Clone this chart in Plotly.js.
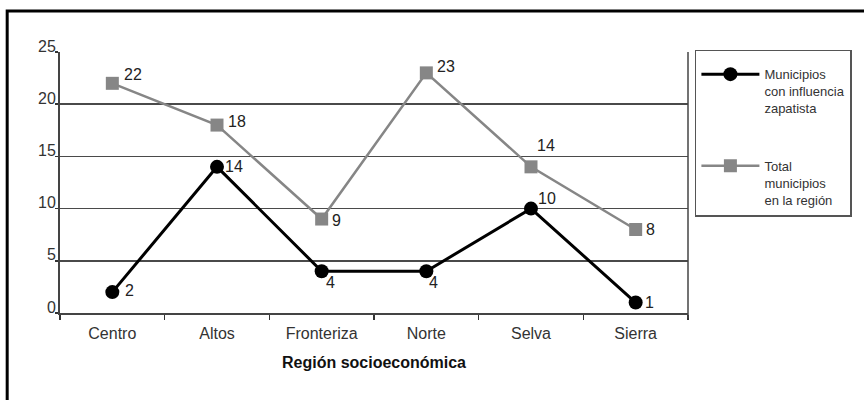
<!DOCTYPE html>
<html>
<head>
<meta charset="utf-8">
<script src="https://cdn.plot.ly/plotly-3.0.1.min.js"></script>
<style>
html,body{margin:0;padding:0;background:#fff;}
#chart{width:864px;height:400px;}
</style>
</head>
<body>
<div id="chart"></div>
<script>
const regions = ["Centro", "Altos", "Fronteriza", "Norte", "Selva", "Sierra"];
const zapatista = [2, 14, 4, 4, 10, 1];
const total = [22, 18, 9, 23, 14, 8];
const seriesNames = ["Municipios<br>con influencia<br>zapatista", "Total<br>municipios<br>en la región"];
const yTicks = [0, 5, 10, 15, 20, 25];
const xTitle = "Región socioeconómica";

// label offsets (pixels) for value labels
const totalLabelShift = [[10, 9], [9, 4], [8, -1], [9, 6], [4, 21], [8, 0]];
const zapLabelShift = [[11, 2], [6, 0], [2, -11], [1, -11], [5, 10], [7, 0]];

const FONT = "'Liberation Sans', Arial, sans-serif";
const LABEL_COLOR = "#222";

const traces = [
  {
    x: regions, y: total, name: seriesNames[1], type: "scatter", mode: "lines+markers",
    line: {color: "#868686", width: 2.5},
    marker: {symbol: "square", size: 13, color: "#868686"},
    legendgroup: "b", legendrank: 2, cliponaxis: false
  },
  {
    x: regions, y: zapatista, name: seriesNames[0], type: "scatter", mode: "lines+markers",
    line: {color: "#000", width: 3},
    marker: {symbol: "circle", size: 14, color: "#000"},
    legendgroup: "a", legendrank: 1, cliponaxis: false
  }
];

const annotations = [];
regions.forEach((r, i) => {
  annotations.push({x: r, y: total[i], xref: "x", yref: "y", text: String(total[i]), showarrow: false,
    xanchor: "left", yanchor: "middle", xshift: totalLabelShift[i][0], yshift: totalLabelShift[i][1],
    font: {family: FONT, size: 16, color: LABEL_COLOR}});
  annotations.push({x: r, y: zapatista[i], xref: "x", yref: "y", text: String(zapatista[i]), showarrow: false,
    xanchor: "left", yanchor: "middle", xshift: zapLabelShift[i][0], yshift: zapLabelShift[i][1],
    font: {family: FONT, size: 16, color: LABEL_COLOR}});
});

const layout = {
  width: 864, height: 400,
  margin: {l: 60, r: 174, t: 52, b: 87},
  paper_bgcolor: "#fff", plot_bgcolor: "#fff",
  font: {family: FONT, size: 16, color: "#333"},
  showlegend: true,
  legend: {
    x: 1.011, y: 1.008, xanchor: "left", yanchor: "top",
    bordercolor: "#555", borderwidth: 1.5, bgcolor: "#fff",
    font: {family: FONT, size: 13, color: "#333"},
    title: {text: " ", font: {size: 6}},
    traceorder: "grouped", tracegroupgap: 38, valign: "top",
    itemwidth: 58
  },
  xaxis: {
    type: "category", range: [-0.5, 5.5],
    tickson: "boundaries", ticks: "outside", ticklen: 5, tickcolor: "#333", tickwidth: 1.5,
    ticklabelstandoff: 5,
    showline: true, linecolor: "#444", linewidth: 2, mirror: false,
    showgrid: false, zeroline: false,
    tickfont: {family: FONT, size: 16, color: "#333"},
    title: {text: "<b>" + xTitle + "</b>", font: {family: FONT, size: 16, color: "#111"}, standoff: 16}
  },
  yaxis: {
    range: [0, 25], tickvals: yTicks, ticktext: yTicks.map(String),
    ticks: "outside", ticklen: 3, tickcolor: "#333", tickwidth: 1.5,
    ticklabelshift: -6, ticklabelstandoff: -4,
    showline: true, linecolor: "#444", linewidth: 2,
    showgrid: true, gridcolor: "#4a4a4a", gridwidth: 1.5, zeroline: false,
    tickfont: {family: FONT, size: 16, color: "#333"}
  },
  annotations: annotations,
  shapes: [
    {type: "line", xref: "paper", yref: "paper", x0: 1, x1: 1, y0: -0.02, y1: 1, line: {color: "#444", width: 1.5}},
    {type: "rect", xref: "paper", yref: "paper", x0: -0.0841, x1: 2, y0: -1, y1: 1.157, line: {color: "#000", width: 3}, layer: "below"}
  ]
};

Plotly.newPlot("chart", traces, layout, {staticPlot: true});
</script>
</body>
</html>
